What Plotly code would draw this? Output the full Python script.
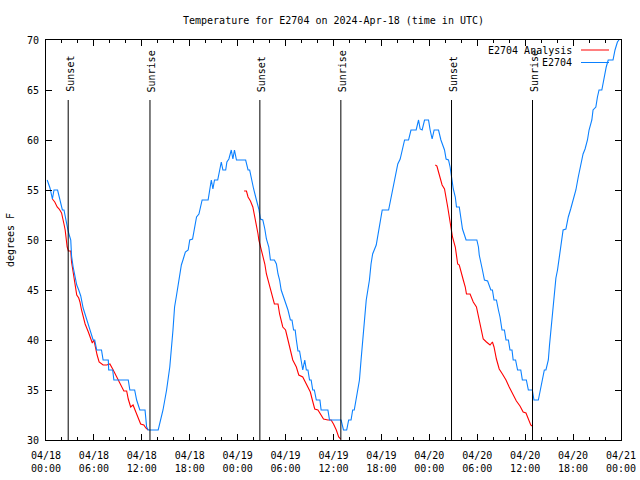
import pandas as pd
import plotly.graph_objects as go

START = "2024-04-18 00:00"
TITLE = "Temperature for E2704 on 2024-Apr-18 (time in UTC)"

# E2704 observations: hours since start, temperature (F)
obs_hours = [0.15, 0.3, 0.5, 0.8, 1.0, 1.45, 1.6, 1.85, 2.05, 2.25, 2.4, 2.6, 2.8, 3.1, 3.2, 3.4, 3.6, 3.85,
             4.1, 4.35, 4.65, 5.1, 5.5, 5.9, 6.1, 6.35, 6.95, 7.15, 7.8, 7.85, 8.35, 8.5, 10.3, 10.5, 11.1,
             11.35, 11.75, 12.4, 12.6, 12.8, 14.05, 14.25, 14.65, 15.1, 15.5, 15.9, 16.1, 16.35, 16.55,
             16.75, 16.95, 17.15, 17.45, 17.8, 18.0, 18.35, 18.6, 18.85, 19.15, 19.3, 19.55, 20.3, 20.5,
             20.7, 20.9, 21.1, 21.5, 21.75, 21.95, 22.15, 22.5, 22.65, 22.9, 23.2, 23.4, 23.6, 23.85,
             25.0, 25.3, 25.5, 25.7, 26.0, 26.35, 26.65, 26.85, 27.15, 27.4, 27.6, 27.9, 28.1, 28.6,
             28.85, 29.05, 29.25, 29.45, 29.9, 30.3, 30.6, 30.8, 31.0, 31.2, 31.35, 31.55, 31.75, 31.95,
             32.15, 32.4, 32.6, 32.8, 33.0, 33.2, 33.4, 33.6, 33.85, 34.3, 34.45, 35.3, 35.5, 36.95,
             37.25, 37.65, 37.9, 38.2, 38.4, 38.6, 38.85, 39.25, 39.45, 39.65, 39.9, 40.1, 40.3, 40.5,
             40.7, 40.9, 41.35, 41.75, 42.1, 42.9, 43.2, 43.4, 43.75, 44.05, 44.35, 44.65, 44.9, 45.4,
             45.7, 46.35, 46.65, 46.85, 47.1, 47.4, 47.9, 48.1, 48.35, 48.6, 49.15, 49.45, 49.9, 50.1,
             50.4, 50.6, 50.85, 51.0, 51.25, 51.4, 51.75, 51.95, 52.15, 52.4, 52.6, 53.95, 54.15, 54.25,
             54.45, 54.65, 54.9, 55.3, 55.7, 55.9, 56.1, 56.4, 56.65, 56.85, 57.1, 57.4, 57.6, 57.9,
             58.1, 58.35, 58.5, 58.8, 59.05, 59.45, 59.65, 60.15, 60.4, 60.9, 61.1, 61.65, 61.95, 62.2,
             62.4, 62.6, 62.9, 63.05, 63.25, 63.45, 63.7, 63.85, 64.05, 64.25, 64.45, 64.75, 65.1, 65.4,
             65.7, 66.0, 66.35, 66.65, 66.95, 67.25, 67.5, 67.8, 68.0, 68.35, 68.5, 68.85, 69.05, 69.25,
             69.6, 69.9, 70.15, 70.4, 71.0, 71.25, 71.55, 71.75]
obs_temps = [56.0, 55.6, 55.2, 54.1, 55.0, 55.0, 54.5, 53.6, 53.0, 53.0, 52.3, 51.4, 50.8, 50.0, 48.4, 47.3, 46.3, 45.5,
             45.0, 44.4, 43.2, 42.0, 41.0, 40.0, 40.0, 39.0, 39.0, 38.0, 38.0, 37.0, 37.0, 36.0, 36.0, 35.0, 35.0,
             34.0, 33.0, 33.0, 31.3, 31.0, 31.0, 31.6, 33.0, 35.0, 37.3, 41.0, 43.3, 44.5, 45.6,
             46.6, 47.5, 48.0, 48.8, 49.0, 50.0, 50.1, 51.1, 52.3, 52.6, 53.1, 54.0, 54.0, 55.0,
             56.0, 55.1, 56.0, 56.0, 57.0, 57.8, 57.0, 57.0, 57.8, 58.1, 59.0, 58.1, 59.0, 58.0,
             58.0, 57.0, 57.0, 56.1, 55.1, 54.0, 53.1, 52.1, 52.0, 51.1, 50.1, 49.3, 48.0, 48.0,
             47.6, 46.6, 46.0, 45.0, 44.0, 43.0, 42.0, 42.0, 41.0, 41.0, 40.0, 38.9, 38.9, 38.0,
             37.0, 38.0, 37.0, 37.0, 36.0, 36.0, 35.0, 35.0, 34.0, 34.0, 33.0, 33.0, 32.0, 32.0,
             31.0, 31.0, 32.0, 32.0, 33.0, 33.0, 34.3, 36.0, 38.0, 40.0, 42.6, 44.0, 45.0, 46.0,
             47.6, 48.6, 49.5, 51.3, 53.0, 53.0, 54.2, 55.1, 56.3, 57.6, 58.1, 59.3, 60.0, 60.0,
             61.0, 61.0, 62.0, 61.1, 61.0, 62.0, 62.0, 61.0, 60.1, 61.0, 61.0, 60.0, 59.0, 58.1,
             58.0, 57.3, 56.0, 55.1, 54.3, 53.3, 53.3, 52.1, 51.1, 50.5, 50.0, 50.0, 49.3, 48.5,
             47.6, 47.0, 46.0, 45.9, 45.0, 45.0, 44.0, 44.0, 43.0, 42.3, 41.0, 41.0, 40.0, 40.0,
             39.0, 39.0, 38.0, 38.0, 37.0, 37.0, 36.0, 36.0, 35.0, 35.0, 34.0, 34.0, 35.2, 36.3,
             37.0, 37.0, 38.0, 39.5, 41.3, 43.4, 45.3, 46.2, 47.0, 48.3, 49.3, 51.0, 51.1, 52.3,
             53.1, 54.0, 55.0, 56.3, 57.6, 58.6, 59.1, 60.0, 61.0, 62.0, 63.0, 63.3, 64.3, 65.0,
             65.0, 66.3, 67.3, 68.0, 68.0, 69.0, 69.8, 70.0]

# E2704 Analysis: three separate runs
ana1_hours = [0.8, 1.1, 1.4, 1.65, 1.95, 2.15, 2.25, 2.4, 2.5, 2.65, 2.8, 3.1, 3.2, 3.35, 3.5, 3.65, 3.85, 4.1,
              4.25, 4.45, 4.65, 4.9, 5.3, 5.6, 5.8, 6.0, 6.15, 6.4, 6.65, 7.15, 7.6, 8.0, 8.35, 8.65, 9.05,
              9.45, 9.75, 10.1, 10.3, 10.6, 10.9, 11.25, 11.55, 11.85, 12.25, 12.5, 12.8]
ana1_temps = [54.1, 53.8, 53.3, 53.1, 52.7, 52.1, 51.6, 51.0, 50.3, 49.3, 48.9, 48.9, 47.8, 47.1, 46.3, 45.5, 44.5, 44.2,
              43.8, 43.0, 42.3, 41.6, 40.8, 40.1, 39.7, 40.0, 39.3, 38.5, 37.8, 37.5, 37.5, 37.6, 37.1, 36.6, 36.0,
              35.4, 34.9, 34.9, 34.1, 33.3, 33.5, 32.8, 32.1, 31.6, 31.5, 31.2, 31.0]
ana2_hours = [24.8, 25.1, 25.3, 25.6, 25.9, 26.15, 26.35, 26.55, 26.65, 26.85, 27.1, 27.4, 27.6, 27.8, 28.2, 28.6,
              29.05, 29.25, 29.65, 30.0, 30.3, 30.6, 30.9, 31.35, 31.65, 32.15, 32.5, 32.8, 33.1, 33.35, 33.65,
              34.05, 34.45, 34.75, 35.3, 35.7, 36.0, 36.35, 36.65, 36.9]
ana2_temps = [54.9, 54.9, 54.3, 53.9, 53.3, 52.3, 51.6, 50.6, 50.0, 49.4, 48.6, 47.6, 46.6, 46.0, 45.0, 43.6,
              43.6, 42.6, 41.3, 41.0, 40.0, 39.0, 38.0, 37.3, 36.5, 36.3, 35.8, 35.3, 34.8, 34.0, 33.1,
              33.0, 32.5, 32.1, 32.0, 32.0, 31.6, 31.0, 30.3, 30.1]
ana3_hours = [48.75, 48.95, 49.15, 49.35, 49.6, 49.9, 50.1, 50.3, 50.5, 50.7, 50.9, 51.25, 51.55, 51.75, 52.1,
              52.25, 52.5, 52.65, 53.1, 53.5, 53.9, 54.15, 54.45, 54.75, 55.15, 55.6, 55.9, 56.1, 56.4, 56.75,
              57.15, 57.6, 58.0, 58.4, 58.9, 59.35, 59.75, 60.1, 60.4, 60.7, 60.85]
ana3_temps = [57.5, 57.4, 56.8, 56.1, 55.5, 55.1, 54.3, 53.3, 52.3, 51.3, 50.3, 49.3, 47.6, 47.5, 46.6,
              46.0, 45.3, 44.6, 44.6, 43.8, 43.3, 42.3, 41.0, 40.1, 39.8, 39.5, 39.8, 39.3, 38.1, 37.1,
              36.6, 36.0, 35.3, 34.6, 33.9, 33.4, 32.8, 32.7, 32.0, 31.5, 31.4]

sunset_hours = [2.78, 26.78, 50.78]
sunrise_hours = [13.02, 36.92, 60.92]

RED = "#ff0000"
BLUE = "#0a80ff"
FONT = "DejaVu Sans Mono"

t0 = pd.Timestamp(START)
def to_time(hours):
    return [t0 + pd.Timedelta(hours=h) for h in hours]

ana_x = to_time(ana1_hours) + [None] + to_time(ana2_hours) + [None] + to_time(ana3_hours)
ana_y = ana1_temps + [None] + ana2_temps + [None] + ana3_temps

fig = go.Figure()
fig.add_trace(go.Scatter(x=ana_x, y=ana_y, mode="lines", name="E2704 Analysis",
                         line=dict(color=RED, width=1.1), connectgaps=False))
fig.add_trace(go.Scatter(x=to_time(obs_hours), y=obs_temps, mode="lines", name="E2704",
                         line=dict(color=BLUE, width=1.1)))

for label, hours in (("Sunset", sunset_hours), ("Sunrise", sunrise_hours)):
    for t in to_time(hours):
        fig.add_shape(type="line", xref="x", yref="y", x0=t, x1=t, y0=30, y1=64,
                      line=dict(color="black", width=1))
        fig.add_annotation(x=t, y=64.6, xref="x", yref="y", text=label, textangle=-90,
                           showarrow=False, xanchor="center", yanchor="bottom", xshift=1.5,
                           font=dict(family=FONT, size=10, color="black"))

# legend drawn in the gnuplot style (text right, sample on the right)
L, R, T, B = 46, 621, 40, 440
def px(x):
    return (x - L) / (R - L)
def py(y):
    return (B - y) / (B - T)
for name, color, ypix in (("E2704 Analysis", RED, 50), ("E2704", BLUE, 62.5)):
    fig.add_annotation(x=px(574), y=py(ypix), xref="paper", yref="paper", text=name,
                       showarrow=False, xanchor="right", yanchor="middle",
                       font=dict(family=FONT, size=10, color="black"))
    fig.add_shape(type="line", xref="paper", yref="paper", x0=px(581), x1=px(609),
                  y0=py(ypix), y1=py(ypix), line=dict(color=color, width=1))

fig.update_layout(
    width=640, height=480,
    margin=dict(l=46, r=19, t=40, b=40, autoexpand=False),
    paper_bgcolor="white", plot_bgcolor="white",
    showlegend=False,
    font=dict(family=FONT, size=10, color="black"),
    title=dict(text=TITLE, x=0.5, xref="paper", y=1 - 20 / 480, yref="container",
               xanchor="center", yanchor="middle", font=dict(family=FONT, size=10, color="black")),
)
fig.update_xaxes(
    type="date", range=[t0, t0 + pd.Timedelta(hours=72)], automargin=False,
    dtick=6 * 3600 * 1000, tick0=t0, tickformat="%m/%d<br>%H:%M",
    ticks="inside", ticklen=6, tickcolor="black", tickwidth=1,
    minor=dict(dtick=2 * 3600 * 1000, ticks="inside", ticklen=3, tickcolor="black", showgrid=False),
    showline=True, linecolor="black", linewidth=1, mirror="ticks",
    showgrid=False, zeroline=False, ticklabelstandoff=6,
)
fig.update_yaxes(
    range=[30, 70], dtick=5, tick0=30, automargin=False,
    ticks="inside", ticklen=6, tickcolor="black", tickwidth=1,
    showline=True, linecolor="black", linewidth=1, mirror="ticks",
    showgrid=False, zeroline=False, ticklabelstandoff=4,
    title=dict(text="degrees F", standoff=10, font=dict(family=FONT, size=10, color="black")),
)

fig.write_html("out.html")
